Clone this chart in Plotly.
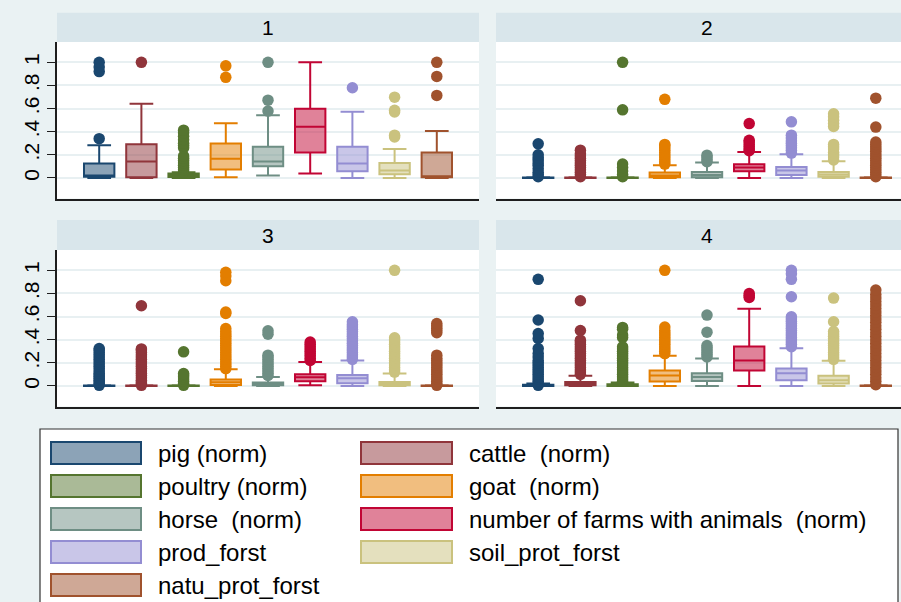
import plotly.graph_objects as go

W, H = 901, 602
FONT = "Liberation Sans, Arial, sans-serif"

SERIES = ["pig (norm)", "cattle  (norm)", "poultry (norm)", "goat  (norm)", "horse  (norm)",
          "number of farms with animals  (norm)", "prod_forst", "soil_prot_forst", "natu_prot_forst"]
COLORS = ["#1a476f", "#90353b", "#55752f", "#e37e00", "#6e8e84",
          "#c10534", "#938dd2", "#cac27e", "#a0522d"]
PANELS = ["1", "2", "3", "4"]
YTICKS = [0, 0.2, 0.4, 0.6, 0.8, 1.0]
YTICK_TEXT = ["0", ".2", ".4", ".6", ".8", "1"]

# Box statistics per panel (rows) and series (columns, SERIES order)
Q1 = [
    [0.010, 0.005, 0.008, 0.073, 0.101, 0.220, 0.058, 0.032, 0.005],
    [0.000, 0.000, 0.000, 0.005, 0.005, 0.058, 0.025, 0.010, 0.000],
    [0.000, 0.000, 0.000, 0.009, 0.005, 0.040, 0.023, 0.005, 0.000],
    [0.000, 0.005, 0.000, 0.038, 0.043, 0.133, 0.050, 0.020, 0.000],
]
MEDIAN = [
    [0.020, 0.142, 0.022, 0.165, 0.142, 0.442, 0.125, 0.064, 0.007],
    [0.000, 0.000, 0.000, 0.020, 0.025, 0.090, 0.064, 0.030, 0.000],
    [0.000, 0.000, 0.000, 0.032, 0.015, 0.075, 0.066, 0.020, 0.000],
    [0.003, 0.020, 0.005, 0.090, 0.078, 0.220, 0.110, 0.050, 0.000],
]
Q3 = [
    [0.125, 0.292, 0.038, 0.298, 0.269, 0.598, 0.269, 0.130, 0.220],
    [0.003, 0.003, 0.003, 0.047, 0.052, 0.119, 0.095, 0.052, 0.003],
    [0.004, 0.004, 0.004, 0.055, 0.029, 0.101, 0.095, 0.035, 0.003],
    [0.010, 0.035, 0.015, 0.133, 0.110, 0.341, 0.150, 0.087, 0.004],
]
LOWER = [
    [0.000, 0.000, 0.000, 0.005, 0.020, 0.038, 0.000, 0.000, 0.000],
    [0.000, 0.000, 0.000, 0.000, 0.000, 0.000, 0.000, 0.000, 0.000],
    [0.000, 0.000, 0.000, 0.000, 0.000, 0.006, 0.000, 0.000, 0.000],
    [0.000, 0.000, 0.000, 0.000, 0.000, 0.000, 0.000, 0.000, 0.000],
]
UPPER = [
    [0.283, 0.641, 0.050, 0.474, 0.543, 1.000, 0.572, 0.251, 0.407],
    [0.005, 0.005, 0.005, 0.110, 0.133, 0.225, 0.205, 0.145, 0.005],
    [0.006, 0.006, 0.006, 0.145, 0.078, 0.208, 0.220, 0.107, 0.005],
    [0.020, 0.087, 0.030, 0.260, 0.237, 0.668, 0.327, 0.217, 0.006],
]

# Outside values per panel, one list per series
OUT_1 = [
    [0.34, 0.92, 0.96, 1.0],
    [1.0],
    [0.05, 0.07, 0.09, 0.11, 0.13, 0.15, 0.17, 0.19, 0.26, 0.28, 0.30, 0.33, 0.36, 0.39, 0.413],
    [0.87, 0.97],
    [0.578, 0.673, 1.0],
    [],
    [0.78],
    [0.355, 0.37, 0.57, 0.585, 0.699],
    [0.714, 0.878, 1.0],
]
OUT_2 = [
    [0.01, 0.03, 0.05, 0.08, 0.11, 0.13, 0.155, 0.175, 0.20, 0.295],
    [0.01, 0.03, 0.05, 0.07, 0.09, 0.11, 0.13, 0.15, 0.17, 0.19, 0.21, 0.24],
    [0.01, 0.03, 0.06, 0.09, 0.12, 0.589, 1.0],
    [0.12, 0.14, 0.16, 0.18, 0.20, 0.22, 0.24, 0.26, 0.28, 0.29, 0.68],
    [0.14, 0.16, 0.18, 0.197],
    [0.235, 0.25, 0.27, 0.29, 0.31, 0.325, 0.47],
    [0.215, 0.24, 0.26, 0.28, 0.30, 0.32, 0.345, 0.37, 0.485],
    [0.155, 0.18, 0.20, 0.22, 0.25, 0.27, 0.29, 0.445, 0.47, 0.50, 0.53, 0.555],
    [0.01, 0.03, 0.05, 0.07, 0.09, 0.11, 0.13, 0.15, 0.17, 0.19, 0.21, 0.23, 0.25, 0.27,
     0.29, 0.31, 0.44, 0.69],
]
OUT_3 = [
    [0.005, 0.02, 0.035, 0.05, 0.065, 0.08, 0.095, 0.11, 0.13, 0.15, 0.17, 0.19, 0.21,
     0.23, 0.25, 0.27, 0.29, 0.31, 0.324],
    [0.005, 0.02, 0.035, 0.05, 0.07, 0.09, 0.11, 0.13, 0.15, 0.17, 0.19, 0.21, 0.23,
     0.25, 0.27, 0.29, 0.31, 0.32, 0.694],
    [0.005, 0.02, 0.04, 0.06, 0.08, 0.095, 0.107, 0.295],
    [0.15, 0.17, 0.19, 0.21, 0.23, 0.25, 0.27, 0.29, 0.31, 0.33, 0.35, 0.37, 0.39, 0.41,
     0.43, 0.45, 0.47, 0.497, 0.627, 0.64, 0.91, 0.95, 0.983],
    [0.09, 0.11, 0.13, 0.15, 0.17, 0.19, 0.21, 0.23, 0.25, 0.266, 0.448, 0.477],
    [0.22, 0.24, 0.26, 0.28, 0.30, 0.32, 0.34, 0.36, 0.38],
    [0.23, 0.25, 0.27, 0.29, 0.31, 0.33, 0.35, 0.37, 0.39, 0.41, 0.43, 0.45, 0.47, 0.49,
     0.51, 0.53, 0.555],
    [0.12, 0.14, 0.16, 0.18, 0.20, 0.22, 0.24, 0.26, 0.28, 0.30, 0.32, 0.34, 0.36, 0.38,
     0.40, 0.416, 1.0],
    [0.005, 0.02, 0.04, 0.06, 0.08, 0.10, 0.12, 0.14, 0.16, 0.18, 0.20, 0.22, 0.24, 0.266,
     0.46, 0.48, 0.50, 0.52, 0.54],
]
OUT_4 = [
    [0.005, 0.02, 0.04, 0.06, 0.08, 0.10, 0.12, 0.14, 0.16, 0.18, 0.20, 0.22, 0.25, 0.28,
     0.324, 0.41, 0.454, 0.57, 0.922],
    [0.10, 0.12, 0.14, 0.16, 0.18, 0.20, 0.22, 0.24, 0.26, 0.28, 0.30, 0.32, 0.34, 0.36,
     0.38, 0.396, 0.48, 0.737],
    [0.04, 0.06, 0.08, 0.10, 0.12, 0.14, 0.16, 0.18, 0.20, 0.22, 0.24, 0.26, 0.28, 0.30,
     0.32, 0.338, 0.42, 0.44, 0.49, 0.506],
    [0.28, 0.30, 0.32, 0.34, 0.36, 0.38, 0.40, 0.42, 0.44, 0.46, 0.48, 0.51, 1.0],
    [0.25, 0.27, 0.29, 0.31, 0.33, 0.35, 0.465, 0.613],
    [0.766, 0.78, 0.80],
    [0.34, 0.36, 0.38, 0.40, 0.42, 0.44, 0.46, 0.48, 0.50, 0.52, 0.54, 0.56, 0.58, 0.598,
     0.772, 0.922, 0.97, 1.0],
    [0.23, 0.25, 0.27, 0.29, 0.31, 0.33, 0.35, 0.37, 0.39, 0.41, 0.43, 0.45, 0.47,
     0.555, 0.76],
    [0.01, 0.04, 0.07, 0.10, 0.13, 0.16, 0.19, 0.22, 0.25, 0.28, 0.31, 0.34, 0.37, 0.40,
     0.43, 0.46, 0.49, 0.52, 0.55, 0.58, 0.61, 0.64, 0.67, 0.70, 0.73, 0.76, 0.79, 0.83],
]
OUTSIDE = [OUT_1, OUT_2, OUT_3, OUT_4]


def fx(p):
    return p / W


def fy(p):
    return 1 - p / H


def rgba(hex_color, a):
    h = hex_color.lstrip("#")
    r, g, b = int(h[0:2], 16), int(h[2:4], 16), int(h[4:6], 16)
    return f"rgba({r},{g},{b},{a})"


# pixel frames of the four plot regions: left, right, top, bottom
FRAMES = [(57, 479, 42, 198.5), (496, 901, 42, 198.5),
          (57, 479, 250, 406.5), (496, 901, 250, 406.5)]
HEADERS = [(12.7, 42), (12.7, 42), (220, 250), (220, 250)]
UNIT = 42.2  # pixels per category slot
YRANGE = [-0.178, 1.176]

fig = go.Figure()

for p in range(4):
    xa = "x" if p == 0 else f"x{p + 1}"
    ya = "y" if p == 0 else f"y{p + 1}"
    for s, name in enumerate(SERIES):
        c = COLORS[s]
        fig.add_trace(go.Box(
            x=[name], q1=[Q1[p][s]], median=[MEDIAN[p][s]], q3=[Q3[p][s]],
            lowerfence=[LOWER[p][s]], upperfence=[UPPER[p][s]],
            boxpoints=False, width=0.72, whiskerwidth=0.78,
            fillcolor=rgba(c, 0.5), line=dict(color=c, width=2),
            xaxis=xa, yaxis=ya, showlegend=False, hoverinfo="skip",
        ))
        vals = OUTSIDE[p][s]
        if vals:
            fig.add_trace(go.Scatter(
                x=[name] * len(vals), y=vals, mode="markers",
                marker=dict(color=c, size=11.5, line=dict(width=0)),
                xaxis=xa, yaxis=ya, showlegend=False, hoverinfo="skip",
            ))

layout = dict(
    width=W, height=H, margin=dict(l=0, r=0, t=0, b=0),
    paper_bgcolor="#eaf2f3", plot_bgcolor="white",
    font=dict(family=FONT, color="#000"),
    showlegend=False,
)
shapes = []
annotations = []

for p in range(4):
    l, r, t, b = FRAMES[p]
    left_col = p in (0, 2)
    xr = [-1, -1 + (r - l) / UNIT]
    xkey = "xaxis" if p == 0 else f"xaxis{p + 1}"
    ykey = "yaxis" if p == 0 else f"yaxis{p + 1}"
    xid = "x" if p == 0 else f"x{p + 1}"
    yid = "y" if p == 0 else f"y{p + 1}"
    layout[xkey] = dict(
        domain=[fx(l), fx(r)], anchor=yid, type="category",
        categoryorder="array", categoryarray=SERIES, range=xr,
        showticklabels=False, ticks="", showgrid=False, zeroline=False,
        showline=True, linecolor="#1e1e1e", linewidth=1.5, fixedrange=True,
    )
    layout[ykey] = dict(
        domain=[fy(b), fy(t)], anchor=xid, range=YRANGE,
        tickvals=YTICKS, ticktext=YTICK_TEXT,
        showgrid=True, gridcolor="#e8f0f2", gridwidth=1.5, zeroline=False,
        showline=left_col, linecolor="#1e1e1e", linewidth=1.5,
        ticks="outside" if left_col else "", ticklen=8, tickwidth=1, tickcolor="#1e1e1e",
        showticklabels=left_col, tickangle=-90,
        tickfont=dict(family=FONT, size=21, color="#000"), fixedrange=True,
    )
    ht, hb = HEADERS[p]
    shapes.append(dict(type="rect", xref="paper", yref="paper",
                       x0=fx(l), x1=fx(r), y0=fy(hb), y1=fy(ht),
                       fillcolor="#d9e6eb", line=dict(width=0), layer="below"))
    # headers of the right column are centred on the full panel width (422 px)
    cx = (l + r) / 2 if left_col else l + 211
    annotations.append(dict(text=PANELS[p], xref="paper", yref="paper",
                            x=fx(cx), y=fy((ht + hb) / 2), xanchor="center", yanchor="middle",
                            showarrow=False, font=dict(family=FONT, size=21, color="#000")))

# legend frame
shapes.append(dict(type="rect", xref="paper", yref="paper",
                   x0=fx(40), x1=fx(898), y0=fy(608), y1=fy(429),
                   fillcolor="white", line=dict(color="#333333", width=1.2)))

ROW_Y = [453, 486, 519, 552, 585]
COL_SW = [(51, 141), (361, 452)]
COL_TX = [156, 467]
for s, name in enumerate(SERIES):
    row, col = divmod(s, 2)
    cy = ROW_Y[row]
    x0, x1 = COL_SW[col]
    shapes.append(dict(type="rect", xref="paper", yref="paper",
                       x0=fx(x0), x1=fx(x1), y0=fy(cy + 11), y1=fy(cy - 11),
                       fillcolor=rgba(COLORS[s], 0.5),
                       line=dict(color=COLORS[s], width=2)))
    annotations.append(dict(text=name.replace("  ", "&nbsp; "), xref="paper", yref="paper",
                            x=fx(COL_TX[col]), y=fy(cy), xanchor="left", yanchor="middle",
                            showarrow=False,
                            font=dict(family=FONT, size=24, color="#000")))

layout["shapes"] = shapes
layout["annotations"] = annotations
fig.update_layout(**layout)

fig.write_html("out.html")
